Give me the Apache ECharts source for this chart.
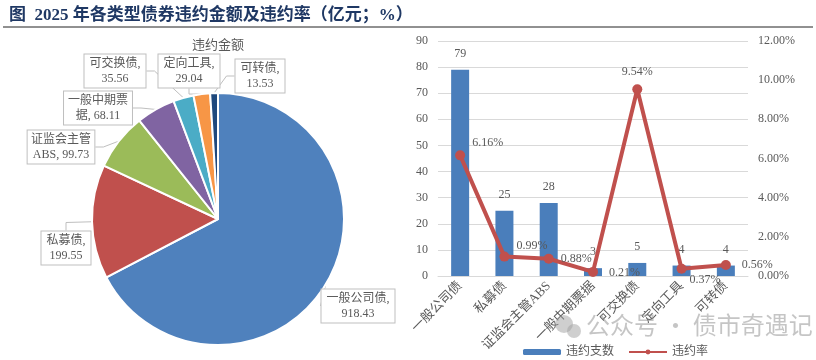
<!DOCTYPE html>
<html>
<head>
<meta charset="utf-8">
<script src="https://cdn.jsdelivr.net/npm/echarts@6/dist/echarts.min.js"></script>
<style>
html,body{margin:0;padding:0;background:#fff;}
#c{width:816px;height:360px;}
</style>
</head>
<body>
<div id="c"></div>
<script>
// ---- data ----
var pieNames = ['一般公司债', '私募债', '证监会主管ABS', '一般中期票据', '可交换债', '定向工具', '可转债'];
var pieValues = [918.43, 199.55, 99.73, 68.11, 35.56, 29.04, 13.53];
var barCategories = ['一般公司债', '私募债', '证监会主管ABS', '一般中期票据', '可交换债', '定向工具', '可转债'];
var defaultCounts = [79, 25, 28, 3, 5, 4, 4];
var defaultRates = [6.16, 0.99, 0.88, 0.21, 9.54, 0.37, 0.56];
var rightTicks = [0, 2, 4, 6, 8, 10, 12];

// ---- layout ----
var FONT = "'Liberation Serif', 'Noto Sans CJK SC', serif";
var GRAY = '#595959';
var pieColors = ['#4f81bd', '#c0504d', '#9bbb59', '#8064a2', '#4bacc6', '#f79646', '#1f497d'];
var pieLabelPos = [[358, 306], [66, 248], [61, 147], [98, 108], [115, 71], [189, 71], [260, 76]];
var labelWrap = {'一般中期票据': '一般中期票\n据, ', '证监会主管ABS': '证监会主管\nABS, '};
var rateLabelStyle = [
  {position: 'right', offset: [2, -13]},
  {position: 'right', offset: [2, -11]},
  {position: 'right', offset: [2, 0]},
  {position: 'right', offset: [6, 1]},
  {position: 'top', offset: [0, -1]},
  {position: 'right', offset: [-2, 11]},
  {position: 'right', offset: [6, 0]}
];

var chart = echarts.init(document.getElementById('c'), null, {renderer: 'canvas'});

var option = {
  animation: false,
  backgroundColor: '#fff',
  title: [
    {text: '图  2025 年各类型债券违约金额及违约率（亿元；%）', left: 4, top: 2,
     textStyle: {fontFamily: FONT, fontSize: 17, fontWeight: 'bold', color: '#1f3864'}},
    {text: '违约金额', left: 213, top: 34, textAlign: 'center',
     textStyle: {fontFamily: FONT, fontSize: 13, fontWeight: 'normal', color: GRAY}}
  ],
  graphic: [
    {type: 'line', shape: {x1: 3, y1: 27, x2: 813, y2: 27}, style: {stroke: '#222', lineWidth: 1}},
    {type: 'circle', shape: {cx: 564, cy: 324, r: 9}, style: {fill: 'rgba(160,160,160,0.5)'}, z: 100},
    {type: 'circle', shape: {cx: 574, cy: 331, r: 7}, style: {fill: 'rgba(160,160,160,0.5)'}, z: 100},
    {type: 'text', left: 586, top: 313, z: 100,
     style: {text: '公众号 · 债市奇遇记', font: "24px 'Noto Sans CJK SC'", fill: 'rgba(150,150,150,0.55)'}}
  ],
  color: pieColors,
  legend: {
    data: ['违约支数', '违约率'],
    left: 518, top: 341, itemGap: 14,
    itemWidth: 38, itemHeight: 6,
    textStyle: {fontFamily: FONT, fontSize: 12, color: GRAY}
  },
  grid: {left: 438, right: 68, top: 41, bottom: 84},
  xAxis: {
    type: 'category', data: barCategories,
    axisLine: {lineStyle: {color: '#d9d9d9'}},
    axisTick: {show: false},
    axisLabel: {rotate: 45, interval: 0, fontFamily: FONT, fontSize: 13, color: GRAY, margin: 8}
  },
  yAxis: [
    {type: 'value', min: 0, max: 90, interval: 10,
     axisLine: {show: false}, axisTick: {show: false},
     splitLine: {lineStyle: {color: '#d9d9d9'}},
     axisLabel: {fontFamily: FONT, fontSize: 12, color: GRAY, margin: 10}},
    {type: 'value', min: rightTicks[0], max: rightTicks[rightTicks.length - 1], interval: 2,
     axisLine: {show: false}, axisTick: {show: false}, splitLine: {show: false},
     axisLabel: {fontFamily: FONT, fontSize: 12, color: GRAY, margin: 10,
       formatter: function (v) { return v.toFixed(2) + '%'; }}}
  ],
  series: [
    {
      type: 'pie', name: '违约金额',
      center: [218, 219], radius: 126,
      startAngle: 90, clockwise: true,
      itemStyle: {borderColor: '#fff', borderWidth: 2},
      data: pieNames.map(function (n, i) { return {name: n, value: pieValues[i], itemStyle: {color: pieColors[i]}}; }),
      label: {
        show: true, position: 'outside', overflow: 'none', alignTo: 'none',
        formatter: function (p) {
          var head = labelWrap[p.name] || (p.name + ',\n');
          return head + p.value.toFixed(2);
        },
        fontFamily: FONT, fontSize: 12, color: GRAY, lineHeight: 15,
        backgroundColor: '#fff', borderColor: '#bfbfbf', borderWidth: 1,
        padding: [2, 5, 1, 5], align: 'center'
      },
      labelLine: {show: true, length: 8, length2: 8, lineStyle: {color: '#bfbfbf', width: 1}},
      labelLayout: function (params) {
        var pos = pieLabelPos[params.dataIndex];
        return {x: pos[0], y: pos[1], align: 'center', verticalAlign: 'middle', hideOverlap: false};
      },
      legendHoverLink: false
    },
    {
      type: 'bar', name: '违约支数', data: defaultCounts,
      barWidth: 18,
      itemStyle: {color: '#4a7ebb'},
      label: {show: true, position: 'top', distance: 10, fontFamily: FONT, fontSize: 12, color: GRAY}
    },
    {
      type: 'line', name: '违约率', yAxisIndex: 1,
      data: defaultRates.map(function (v, i) {
        return {value: v, label: rateLabelStyle[i]};
      }),
      symbol: 'circle', symbolSize: 10,
      lineStyle: {color: '#c0504d', width: 4},
      itemStyle: {color: '#c0504d'},
      label: {show: true, fontFamily: FONT, fontSize: 12, color: GRAY,
        formatter: function (p) { return p.value.toFixed(2) + '%'; }},
      z: 5
    }
  ]
};
chart.setOption(option);
</script>
</body>
</html>
